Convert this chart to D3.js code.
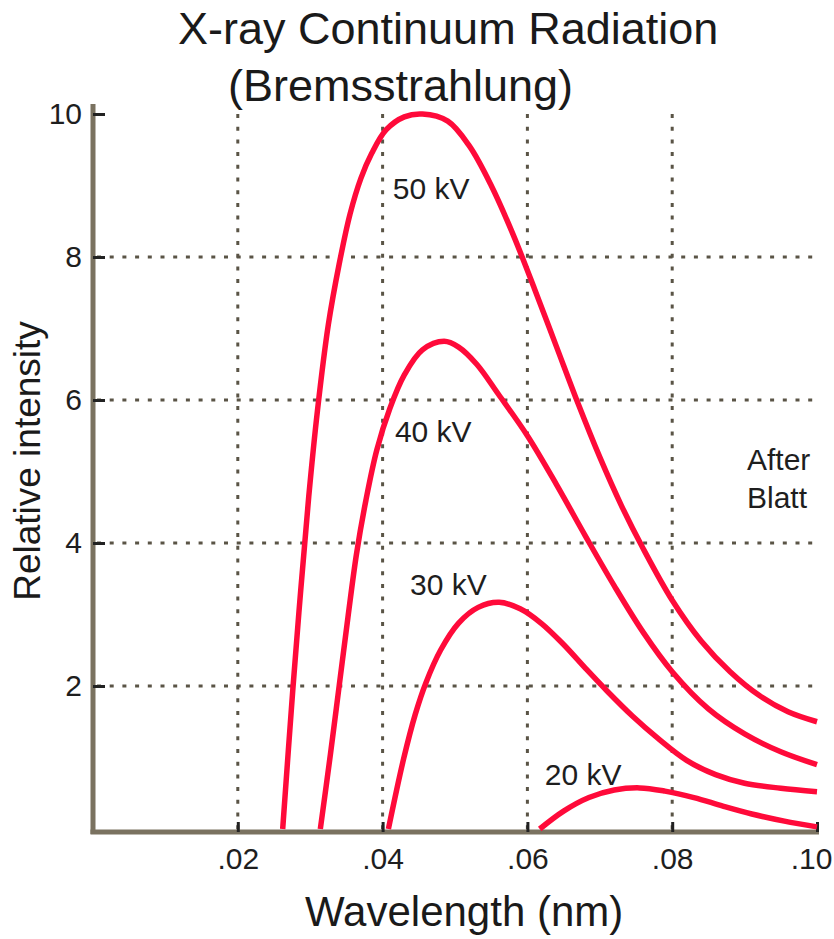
<!DOCTYPE html>
<html>
<head>
<meta charset="utf-8">
<script src="https://cdn.jsdelivr.net/npm/d3@7"></script>
<style>
  html, body { margin: 0; padding: 0; background: #fff; }
  svg { display: block; font-family: "Liberation Sans", Arial, Helvetica, sans-serif; }
</style>
</head>
<body>
<div id="chart"></div>
<script>
// 1. data: [wavelength nm, relative intensity]
const curve50kV = [
  [0.0262, 0], [0.0276, 1.95], [0.0287, 3.35], [0.0298, 4.65], [0.031, 5.85],
  [0.0325, 7.05], [0.034, 7.9], [0.0355, 8.6], [0.037, 9.1], [0.0385, 9.45],
  [0.0405, 9.78], [0.043, 9.96], [0.0455, 10.0], [0.049, 9.9], [0.052, 9.55],
  [0.055, 9.0], [0.058, 8.32], [0.061, 7.55], [0.064, 6.75], [0.067, 5.95],
  [0.070, 5.2], [0.073, 4.52], [0.076, 3.92], [0.080, 3.2], [0.084, 2.63],
  [0.088, 2.2], [0.092, 1.87], [0.096, 1.64], [0.1, 1.5]
];
const curve40kV = [
  [0.0314, 0], [0.0328, 1.05], [0.034, 2.0], [0.0352, 2.95], [0.0364, 3.85],
  [0.0377, 4.6], [0.0392, 5.3], [0.041, 5.88], [0.043, 6.35], [0.0455, 6.7],
  [0.0485, 6.82], [0.0505, 6.74], [0.053, 6.5], [0.056, 6.08], [0.060, 5.5],
  [0.064, 4.82], [0.068, 4.1], [0.072, 3.4], [0.076, 2.75], [0.080, 2.2],
  [0.085, 1.68], [0.090, 1.33], [0.095, 1.08], [0.1, 0.9]
];
const curve30kV = [
  [0.0408, 0], [0.0429, 0.98], [0.0445, 1.6], [0.046, 2.05], [0.048, 2.5],
  [0.0505, 2.88], [0.0532, 3.1], [0.0561, 3.17], [0.059, 3.08], [0.062, 2.87],
  [0.065, 2.58], [0.068, 2.25], [0.071, 1.93], [0.0745, 1.58], [0.078, 1.27],
  [0.082, 0.96], [0.086, 0.76], [0.090, 0.64], [0.095, 0.57], [0.1, 0.52]
];
const curve20kV = [
  [0.0617, 0], [0.065, 0.25], [0.0685, 0.44], [0.072, 0.545], [0.0755, 0.575],
  [0.079, 0.53], [0.083, 0.44], [0.087, 0.32], [0.091, 0.21], [0.0955, 0.11],
  [0.1, 0.03]
];

const curveNames = ["50 kV", "40 kV", "30 kV", "20 kV"];
const xTicks = [0.02, 0.04, 0.06, 0.08, 0.10];
const xTickLabels = [".02", ".04", ".06", ".08", ".10"];
const yTicks = [2, 4, 6, 8, 10];
const yTickLabels = ["2", "4", "6", "8", "10"];
const yGrid = [2, 4, 6, 8];
const xGrid = [0.02, 0.04, 0.06, 0.08];

document.addEventListener("DOMContentLoaded", function () {
  const width = 834, height = 939;

  const svg = d3.select("#chart")
    .append("svg")
    .attr("width", width)
    .attr("height", height);

  const x = d3.scaleLinear().domain([0, 0.1]).range([93, 817]);
  const y = d3.scaleLinear().domain([0, 10]).range([829, 114]);

  // 2. dotted grid
  const grid = svg.append("g")
    .attr("stroke", "#5a5446")
    .attr("stroke-width", 3)
    .attr("stroke-dasharray", "4,8.7");

  grid.selectAll("line.h")
    .data(yGrid)
    .join("line")
    .attr("class", "h")
    .attr("x1", x(0) + 4)
    .attr("x2", x(0.1))
    .attr("y1", d => y(d))
    .attr("y2", d => y(d));

  grid.selectAll("line.v")
    .data(xGrid)
    .join("line")
    .attr("class", "v")
    .attr("x1", d => x(d))
    .attr("x2", d => x(d))
    .attr("y1", y(10))
    .attr("y2", y(0));

  // 3. axes
  const xAxis = svg.append("g")
    .attr("transform", "translate(0,832)")
    .call(d3.axisBottom(x)
      .tickValues(xTicks)
      .tickFormat((d, i) => xTickLabels[i])
      .tickSizeInner(-10)
      .tickSizeOuter(0)
      .tickPadding(16));

  const yAxis = svg.append("g")
    .attr("transform", "translate(93,0)")
    .call(d3.axisLeft(y)
      .tickValues(yTicks)
      .tickFormat((d, i) => yTickLabels[i])
      .tickSizeInner(-12)
      .tickSizeOuter(0)
      .tickPadding(11));

  [xAxis, yAxis].forEach(ax => {
    ax.select(".domain").attr("stroke", "#7a7260").attr("stroke-width", 5);
    ax.selectAll(".tick line").attr("stroke", "#222").attr("stroke-width", 3);
    ax.selectAll(".tick text")
      .attr("fill", "#1e1e1e")
      .attr("font-size", 30)
      .attr("font-family", "Liberation Sans, Arial, sans-serif");
  });
  // left axis runs a little above the top tick, bottom one a little past the right
  yAxis.select(".domain").attr("d", "M0,104V834");
  xAxis.select(".domain").attr("d", "M" + (x(0) - 2.5) + ",0H" + (x(0.1) + 2));
  // last label sits against the right edge
  xAxis.selectAll(".tick text").filter(d => d === 0.10).attr("dx", -6);

  // 4. curves
  const line = d3.line()
    .x(d => x(d[0]))
    .y(d => y(d[1]))
    .curve(d3.curveCatmullRom.alpha(0.5));

  svg.append("g")
    .attr("fill", "none")
    .attr("stroke", "#ff0a3a")
    .attr("stroke-width", 5.5)
    .attr("stroke-linejoin", "round")
    .attr("stroke-linecap", "butt")
    .selectAll("path")
    .data([curve50kV, curve40kV, curve30kV, curve20kV])
    .join("path")
    .attr("d", line);

  // 5. labels
  const labelAt = [[0.0414, 8.81], [0.0417, 5.41], [0.0438, 3.27], [0.0624, 0.62]];
  svg.append("g")
    .attr("fill", "#1e1e1e")
    .attr("font-size", 30)
    .selectAll("text")
    .data(curveNames)
    .join("text")
    .attr("x", (d, i) => x(labelAt[i][0]))
    .attr("y", (d, i) => y(labelAt[i][1]))
    .text(d => d);

  const note = svg.append("text")
    .attr("fill", "#1e1e1e")
    .attr("font-size", 30)
    .attr("x", 747)
    .attr("y", 470);
  note.append("tspan").text("After");
  note.append("tspan").attr("x", 747).attr("dy", 38).text("Blatt");

  svg.append("text")
    .attr("x", 178)
    .attr("y", 44)
    .attr("font-size", 45)
    .attr("fill", "#1a1a1a")
    .text("X-ray Continuum Radiation");

  svg.append("text")
    .attr("x", 228)
    .attr("y", 101)
    .attr("font-size", 45)
    .attr("fill", "#1a1a1a")
    .text("(Bremsstrahlung)");

  svg.append("text")
    .attr("x", 305)
    .attr("y", 926)
    .attr("font-size", 42)
    .attr("fill", "#1a1a1a")
    .text("Wavelength (nm)");

  svg.append("text")
    .attr("transform", "translate(40,461) rotate(-90)")
    .attr("text-anchor", "middle")
    .attr("font-size", 37)
    .attr("fill", "#1a1a1a")
    .text("Relative intensity");
});
</script>
</body>
</html>
